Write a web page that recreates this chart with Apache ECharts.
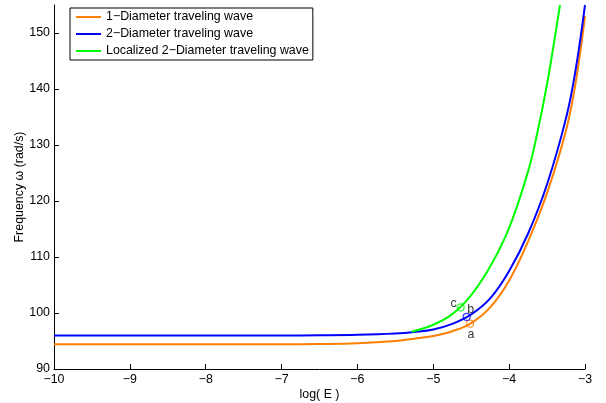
<!DOCTYPE html>
<html>
<head>
<meta charset="utf-8">
<script src="https://cdn.jsdelivr.net/npm/echarts@6/dist/echarts.min.js"></script>
<style>
  html, body { margin: 0; padding: 0; background: #fff; }
  #chart { width: 606px; height: 403px; }
</style>
</head>
<body>
<div id="chart"></div>
<script>
// log10 of energy (x) and frequency in rad/s (y) for each branch
const oneDiamLogE = [-10, -7, -6.5, -6.0, -5.5, -5.25, -5.0, -4.75, -4.5, -4.25, -4.0, -3.75, -3.5, -3.25, -3.125, -3.0];
const oneDiamFreq = [94.4, 94.4, 94.45, 94.6, 95.0, 95.4, 95.9, 96.75, 98.2, 101.0, 105.8, 112.8, 121.45, 132.6, 141.0, 153];

const twoDiamLogE = [-10, -7, -6.5, -6.0, -5.5, -5.25, -5.0, -4.75, -4.5, -4.25, -4.0, -3.75, -3.5, -3.25, -3.125, -3.0];
const twoDiamFreq = [96.0, 96.0, 96.02, 96.1, 96.33, 96.6, 97.05, 98.05, 99.75, 102.6, 107.5, 114.2, 123.0, 134.8, 143.3, 155];

const localLogE = [-5.285, -5.0, -4.75, -4.5, -4.25, -4.0, -3.75, -3.625, -3.5, -3.4, -3.33];
const localFreq = [96.65, 97.9, 99.8, 103.2, 108.3, 115.2, 125.3, 132.4, 140.9, 149.0, 155];

// marked operating points a, b, c
const markNames = ['a', 'b', 'c'];
const markLogE = [-4.516, -4.56, -4.639];
const markFreq = [98.1, 99.3, 101.0];

const seriesNames = ['1\u2212Diameter traveling wave', '2\u2212Diameter traveling wave', 'Localized 2\u2212Diameter traveling wave'];
const colors = ['#FF8000', '#0000FF', '#00FF00'];

const yTicks = [90, 100, 110, 120, 130, 140, 150];

const pairs = (xs, ys) => xs.map((x, i) => [x, ys[i]]);
const minus = v => (v < 0 ? '\u2212' + Math.abs(v) : String(v));

const font = "Arial, 'Liberation Sans', Helvetica, sans-serif";

function lineSeries(name, data, color) {
  return {
    name: name,
    type: 'line',
    data: data,
    smooth: 0.4,
    showSymbol: false,
    symbol: 'none',
    lineStyle: { color: color, width: 2 },
    itemStyle: { color: color },
    emphasis: { disabled: true },
    z: 2
  };
}

const labelPos = {
  a: { position: 'bottom', offset: [1, -4] },
  b: { position: 'top', offset: [4, 8] },
  c: { position: 'top', offset: [-7, 11] }
};

const markerSeries = markNames.map((n, i) => ({
  name: 'pt_' + n,
  type: 'scatter',
  data: [[markLogE[i], markFreq[i]]],
  symbol: 'circle',
  symbolSize: 7,
  itemStyle: { color: 'rgba(255,255,255,0)', borderColor: colors[i], borderWidth: 1.2 },
  label: {
    show: true,
    formatter: n,
    position: labelPos[n].position,
    offset: labelPos[n].offset,
    color: '#000',
    fontSize: 12.4,
    fontFamily: font
  },
  emphasis: { disabled: true },
  z: 5
}));

const chart = echarts.init(document.getElementById('chart'), null, { renderer: 'canvas' });

chart.setOption({
  animation: false,
  backgroundColor: '#fff',
  grid: { left: 54, right: 21, top: 5, bottom: 34, containLabel: false, outerBoundsMode: 'none' },
  legend: {
    data: seriesNames,
    orient: 'vertical',
    left: 70,
    top: 8,
    icon: 'rect',
    itemWidth: 25,
    itemHeight: 2,
    itemGap: 3,
    padding: [2, 4, 2, 6],
    borderColor: '#000',
    borderWidth: 1,
    backgroundColor: '#fff',
    selectedMode: false,
    textStyle: { fontSize: 12.4, color: '#000', fontFamily: font, lineHeight: 14, padding: [0, 0, 0, 0] }
  },
  xAxis: {
    type: 'value',
    min: -10,
    max: -3,
    interval: 1,
    name: 'log( E )',
    nameLocation: 'middle',
    nameGap: 20,
    nameMoveOverlap: false,
    nameTextStyle: { fontSize: 12.4, color: '#000', fontFamily: font },
    axisLine: { onZero: false, lineStyle: { color: '#000', width: 1 } },
    axisTick: { inside: true, length: 5, lineStyle: { color: '#000' } },
    axisLabel: { formatter: minus, margin: 5, fontSize: 12.4, color: '#000', fontFamily: font },
    splitLine: { show: false }
  },
  yAxis: {
    type: 'value',
    min: 90,
    max: 155,
    interval: 10,
    name: 'Frequency \u03C9 (rad/s)',
    nameLocation: 'middle',
    nameGap: 28,
    nameMoveOverlap: false,
    nameTextStyle: { fontSize: 12.4, color: '#000', fontFamily: font },
    axisLine: { show: true, onZero: false, lineStyle: { color: '#000', width: 1 } },
    axisTick: { inside: true, length: 5, customValues: yTicks, lineStyle: { color: '#000' } },
    axisLabel: { customValues: yTicks, formatter: minus, margin: 4, fontSize: 12.4, color: '#000', fontFamily: font },
    splitLine: { show: false }
  },
  series: [
    lineSeries(seriesNames[0], pairs(oneDiamLogE, oneDiamFreq), colors[0]),
    lineSeries(seriesNames[1], pairs(twoDiamLogE, twoDiamFreq), colors[1]),
    lineSeries(seriesNames[2], pairs(localLogE, localFreq), colors[2])
  ].concat(markerSeries)
});
</script>
</body>
</html>
